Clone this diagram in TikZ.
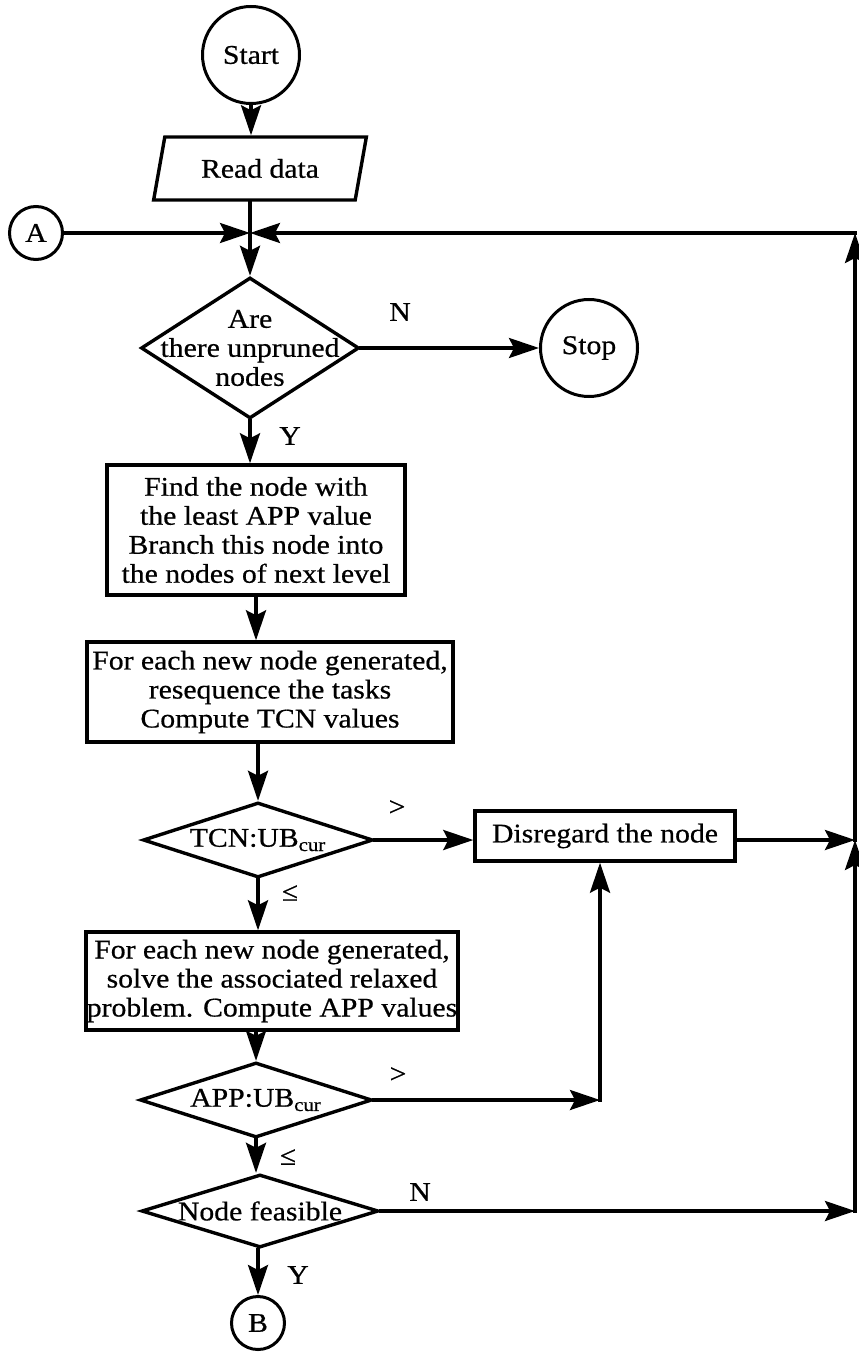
\documentclass[tikz,border=0pt]{standalone}
\usepackage{fontspec}
\setmainfont[FakeStretch=1.1,FakeBold=0.6]{Liberation Serif}
\usetikzlibrary{shapes.geometric,arrows.meta}

\begin{document}
\begin{tikzpicture}[x=0.5pt,y=-0.5pt,line width=1.7pt,
  every node/.style={font=\fontsize{13.5}{14.5}\selectfont,inner sep=0pt},
  arr/.style={-{Stealth[length=15pt,width=10pt,inset=2.5pt]},line cap=rect},
  terminal/.style={circle,draw,line width=1.5pt,minimum size=48.5pt},
  connector/.style={circle,draw,line width=1.5pt,minimum size=26.5pt},
  procbox/.style={draw,align=center},
  decision/.style={diamond,draw},
  iobox/.style={trapezium,trapezium left angle=70,trapezium right angle=110,
    trapezium stretches=true,draw}]

\useasboundingbox (0,0) rectangle (858,1352);

% main column
\node[terminal] (start) at (251,55) {Start};
\node[iobox,minimum width=107pt,minimum height=31.5pt] (read) at (260,168.5) {Read data};
\node[connector] (A) at (36,233) {A};
\coordinate (j) at (250,233);
\node[decision,minimum width=109pt,minimum height=70.5pt] (q1) at (250,348) {};
\node[align=center] (q1t) at (q1) {Are\\there unpruned\\nodes};
\node[terminal] (stop) at (589,348) {Stop};
\node[procbox,minimum width=149pt,minimum height=65pt] (b1) at (256,530)
  {Find the node with\\the least APP value\\Branch this node into\\the nodes of next level};
\node[procbox,minimum width=183pt,minimum height=50pt] (b2) at (270,692)
  {For each new node generated,\\resequence the tasks\\Compute TCN values};
\node[decision,minimum width=115pt,minimum height=37.5pt] (q2) at (258,840) {};
\node (q2t) at (q2) {TCN:UB\textsubscript{cur}};
\node[procbox,minimum width=130pt,minimum height=25pt] (disc) at (605,836) {Disregard the node};
\node[procbox,minimum width=186pt,minimum height=49pt] (b3) at (272,981)
  {For each new node generated,\\solve the associated relaxed\\problem. Compute APP values};
\node[decision,minimum width=116pt,minimum height=37.5pt] (q3) at (256,1100) {};
\node (q3t) at (q3) {APP:UB\textsubscript{cur}};
\node[decision,minimum width=118.5pt,minimum height=36.5pt] (q4) at (260,1211) {};
\node (q4t) at (q4) {Node feasible};
\node[connector] (B) at (258,1323) {B};

% return line on the right
\coordinate (tr) at (855,233);
\coordinate (mr) at (855,840);
\coordinate (br) at (855,1211);
\coordinate (ap) at (600,1100);

% connectors
\draw[arr] (start.south) -- (start.south |- read.north);
\draw[line cap=rect] (read.south -| j) -- (j);
\draw[arr] (A) -- (j);
\draw[arr] (j) -- (q1.north);
\draw[arr] (q1.east) -- (stop.west);
\draw[arr] (q1.south) -- (q1.south |- b1.north);
\draw[arr] (b1.south) -- (b1.south |- b2.north);
\draw[arr] (b2.south -| q2.north) -- (q2.north);
\draw[arr] (q2.east) -- (q2.east -| disc.west);
\draw[arr] (disc.east |- mr) -- (mr);
\draw[arr] (q2.south) -- (q2.south |- b3.north);
\draw[arr] (b3.south -| q3.north) -- (q3.north);
\draw[arr] (q3.east) -- (ap);
\draw[arr] (ap) -- (ap |- disc.south);
\draw[arr] (q3.south) -- (q3.south |- q4.north);
\draw[arr] (B.north |- q4.south) -- (B.north);
\draw[arr] (q4.east) -- (br);
\draw[arr] (br) -- (mr);
\draw[arr] (mr) -- (tr);
\draw[arr] (tr) -- (j);

% branch labels
\node (n1) at (400,312) {N};
\node (y1) at (290,436) {Y};
\node (g1) at (397,808) {>};
\node (l1) at (290,893) {≤};
\node (g2) at (398,1075) {>};
\node (l2) at (288,1157) {≤};
\node (n2) at (420,1192) {N};
\node (y2) at (298,1275) {Y};
\end{tikzpicture}
\end{document}
